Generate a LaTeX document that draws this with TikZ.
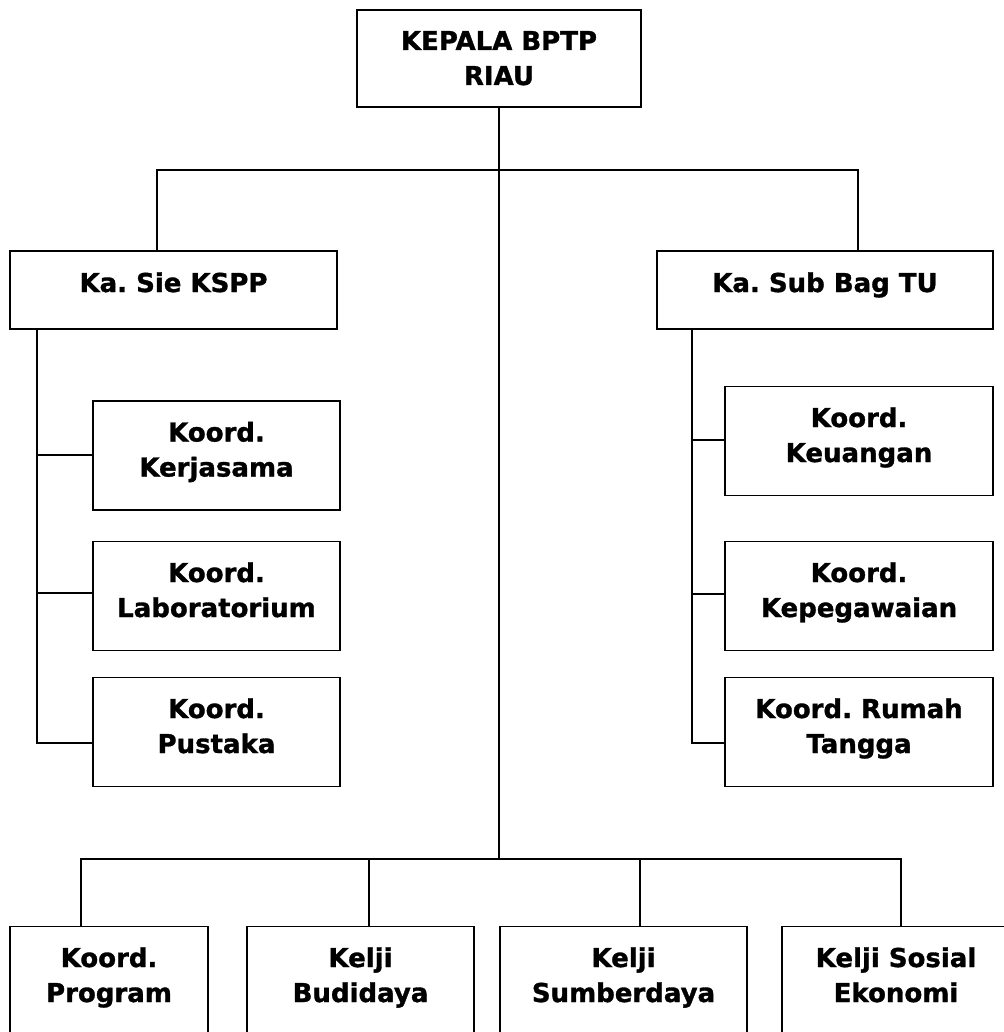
\documentclass[tikz,border=0pt]{standalone}
\usepackage{fontspec}
\setmainfont{DejaVu Sans}[BoldFeatures={FakeBold=1.2}]
\frenchspacing
\usetikzlibrary{calc}
\begin{document}
\begin{tikzpicture}[x=1pt,y=-1pt,
  box/.style={draw, line width=1.9pt, inner sep=0pt, align=center,
    font=\fontsize{26}{35}\selectfont\bfseries},
  onebox/.style={box, text height=20pt, text depth=16pt, minimum height=78pt},
  twobox/.style={box, text height=55pt, text depth=13pt, minimum height=109pt},
  link/.style={line width=1.6pt}]
\useasboundingbox (0,0) rectangle (1003,1032);
\fill[white] (0,0) rectangle (1003,1032);

% top
\node[box, text height=55pt, text depth=2pt, minimum width=284pt, minimum height=97pt] (kepala) at (499,58.5) {KEPALA BPTP\\RIAU};

% second level
\node[onebox, minimum width=327pt] (kspp) at (173.5,290) {Ka. Sie KSPP};
\node[onebox, minimum width=336pt] (subbag) at (825,290) {Ka. Sub Bag TU};

% left column
\node[twobox, minimum width=247pt] (kerjasama) at (216.5,455.5) {Koord.\\Kerjasama};
\node[twobox, minimum width=247pt] (lab) at (216.5,596) {Koord.\\Laboratorium};
\node[twobox, minimum width=247pt] (pustaka) at (216.5,732) {Koord.\\Pustaka};

% right column
\node[twobox, minimum width=268pt] (keuangan) at (859,441) {Koord.\\Keuangan};
\node[twobox, minimum width=268pt] (kepeg) at (859,596) {Koord.\\Kepegawaian};
\node[twobox, minimum width=268pt] (rumah) at (859,732) {Koord. Rumah\\Tangga};

% bottom row
\node[twobox, minimum width=198pt] (prog) at (109,981) {Koord.\\Program};
\node[twobox, minimum width=227pt] (budi) at (360.5,981) {Kelji\\Budidaya};
\node[twobox, minimum width=247pt] (sumber) at (623.5,981) {Kelji\\Sumberdaya};
\node[twobox, minimum width=228pt] (sosial) at (896,981) {Kelji Sosial\\Ekonomi};

% coordinates
\coordinate (busL) at (157,170);
\coordinate (busR) at (858,170);
\coordinate (spL) at (37,743);
\coordinate (spR) at (692,743);
\coordinate (bKer) at (37,455);
\coordinate (bLab) at (37,593);
\coordinate (bKeu) at (692,440);
\coordinate (bKep) at (692,594);
\coordinate (b1) at (81,859);
\coordinate (b2) at (369,859);
\coordinate (b3) at (640,859);
\coordinate (b4) at (901,859);

% connectors
\draw[link] (kepala.south) -- (kepala.south |- b1);
\draw[link] (kspp.north -| busL) -- (busL) -- (busR) -- (subbag.north -| busR);

\draw[link] (kspp.south -| spL) -- (spL) -- (pustaka.west |- spL);
\draw[link] (bKer) -- (kerjasama.west |- bKer);
\draw[link] (bLab) -- (lab.west |- bLab);

\draw[link] (subbag.south -| spR) -- (spR) -- (rumah.west |- spR);
\draw[link] (bKeu) -- (keuangan.west |- bKeu);
\draw[link] (bKep) -- (kepeg.west |- bKep);

\draw[link] (prog.north -| b1) -- (b1) -- (b4) -- (sosial.north -| b4);
\draw[link] (b2) -- (budi.north -| b2);
\draw[link] (b3) -- (sumber.north -| b3);
\end{tikzpicture}
\end{document}
